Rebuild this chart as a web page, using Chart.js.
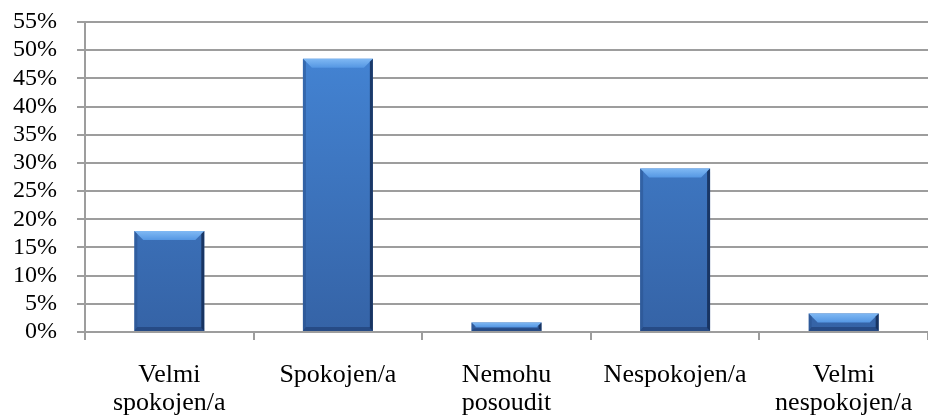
<!DOCTYPE html>
<html>
<head>
<meta charset="utf-8">
<style>
  html, body { margin: 0; padding: 0; background: #ffffff; }
  #wrap { width: 928px; height: 417px; position: relative; }
</style>
<script src="https://cdn.jsdelivr.net/npm/chart.js@4/dist/chart.umd.min.js"></script>
</head>
<body>
<div id="wrap"><canvas id="chart" width="928" height="417"></canvas></div>
<script>
// Survey answers (share of respondents, %)
const categories = [
  ['Velmi', 'spokojen/a'],
  'Spokojen/a',
  ['Nemohu', 'posoudit'],
  'Nespokojen/a',
  ['Velmi', 'nespokojen/a']
];
const shares = [17.9, 48.5, 1.7, 29.0, 3.3];
const axisMax = 55;
const axisStep = 5;

const GRID = '#9d9d9d';
const SERIF = '"Liberation Serif", "Times New Roman", serif';

// Vertical body gradient for each bar
function bodyFill(context) {
  const chart = context.chart;
  const area = chart.chartArea;
  if (!area) return '#3f7bc9';
  const el = context.element;
  const top = el && isFinite(el.y) ? el.y : area.top;
  const base = el && isFinite(el.base) ? el.base : area.bottom;
  const g = chart.ctx.createLinearGradient(0, top, 0, Math.max(base, top + 1));
  g.addColorStop(0, '#4587d8');
  g.addColorStop(1, '#3563a6');
  return g;
}

// Bevelled edges drawn over every bar
const bevelPlugin = {
  id: 'bevel',
  afterDatasetsDraw(chart) {
    const ctx = chart.ctx;
    chart.getDatasetMeta(0).data.forEach((bar) => {
      const p = bar.getProps(['x', 'y', 'base', 'width'], true);
      const x0 = p.x - p.width / 2, x1 = p.x + p.width / 2;
      const y0 = p.y, yb = p.base;
      const h = yb - y0;
      if (h <= 0) return;
      const b = Math.min(9, h * 0.55);
      ctx.save();
      // top light facet
      const tg = ctx.createLinearGradient(0, y0, 0, y0 + b);
      tg.addColorStop(0, '#80b9f4');
      tg.addColorStop(1, '#5597e3');
      ctx.fillStyle = tg;
      ctx.beginPath();
      ctx.moveTo(x0, y0);
      ctx.lineTo(x1, y0);
      ctx.lineTo(x1 - b, y0 + b);
      ctx.lineTo(x0 + b, y0 + b);
      ctx.closePath();
      ctx.fill();
      // left facet
      const side = Math.min(3, p.width / 6);
      ctx.fillStyle = 'rgba(40, 80, 140, 0.5)';
      ctx.beginPath();
      ctx.moveTo(x0, y0);
      ctx.lineTo(x0 + side, y0 + Math.min(side, b));
      ctx.lineTo(x0 + side, yb - Math.min(side, h / 3));
      ctx.lineTo(x0, yb);
      ctx.closePath();
      ctx.fill();
      // right facet
      ctx.fillStyle = 'rgba(18, 40, 80, 0.8)';
      ctx.beginPath();
      ctx.moveTo(x1, y0);
      ctx.lineTo(x1 - side, y0 + Math.min(side, b));
      ctx.lineTo(x1 - side, yb - Math.min(side, h / 3));
      ctx.lineTo(x1, yb);
      ctx.closePath();
      ctx.fill();
      // bottom facet
      const bb = Math.min(4, h / 3);
      ctx.fillStyle = 'rgba(25, 55, 105, 0.55)';
      ctx.beginPath();
      ctx.moveTo(x0, yb);
      ctx.lineTo(x1, yb);
      ctx.lineTo(x1 - side, yb - bb);
      ctx.lineTo(x0 + side, yb - bb);
      ctx.closePath();
      ctx.fill();
      ctx.restore();
    });
  }
};

new Chart(document.getElementById('chart'), {
  type: 'bar',
  data: {
    labels: categories,
    datasets: [{
      data: shares,
      backgroundColor: bodyFill,
      borderWidth: 0,
      barPercentage: 0.415,
      categoryPercentage: 1
    }]
  },
  options: {
    responsive: false,
    animation: false,
    devicePixelRatio: 1,
    layout: { padding: { top: 22, right: 0, left: 0, bottom: 0 } },
    plugins: {
      legend: { display: false },
      tooltip: { enabled: false }
    },
    scales: {
      x: {
        offset: true,
        grid: {
          offset: true,
          drawOnChartArea: false,
          drawTicks: true,
          tickLength: 8,
          color: GRID,
          lineWidth: 2
        },
        border: { display: true, color: GRID, width: 2 },
        ticks: {
          color: '#000000',
          maxRotation: 0,
          autoSkip: false,
          padding: 21,
          font: { family: SERIF, size: 26, lineHeight: 1.08 }
        },
        afterFit(scale) {
          scale.height = 85;
          scale.paddingLeft = 0;
          scale.paddingRight = 0;
        }
      },
      y: {
        min: 0,
        max: axisMax,
        ticks: {
          stepSize: axisStep,
          autoSkip: false,
          color: '#000000',
          padding: 20,
          font: { family: SERIF, size: 24 },
          callback: (v) => v + '%'
        },
        grid: {
          color: GRID,
          lineWidth: 2,
          drawTicks: true,
          tickLength: 8
        },
        border: { display: true, color: GRID, width: 2 },
        afterFit(scale) {
          scale.width = 85;
          scale.paddingTop = 0;
          scale.paddingBottom = 0;
        }
      }
    }
  },
  plugins: [bevelPlugin]
});
</script>
</body>
</html>
